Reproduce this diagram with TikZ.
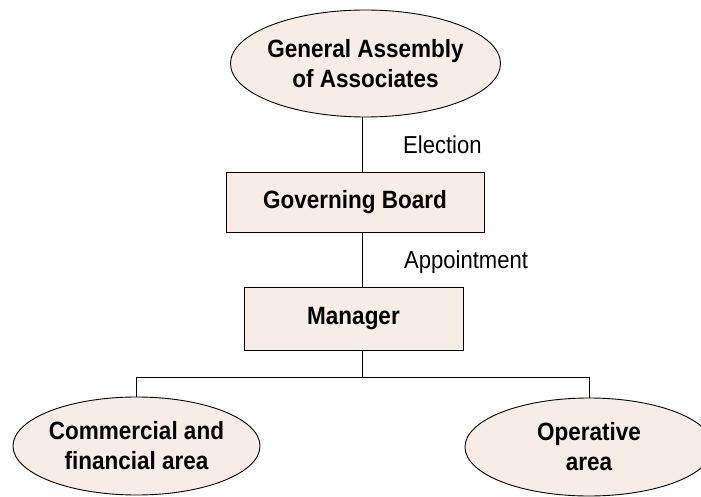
\documentclass[tikz,border=0pt]{standalone}
\usepackage{fontspec}
\setmainfont{Liberation Sans}[FakeStretch=0.9]
\usetikzlibrary{shapes.geometric}
\definecolor{fillc}{HTML}{F8ECE6}
\begin{document}
\begin{tikzpicture}[x=1pt,y=1pt,
  lbl/.style={font=\fontsize{25}{30}\selectfont\bfseries, align=center},
  ell/.style={ellipse, draw=black, line width=0.9pt, fill=fillc, inner sep=-25pt, lbl},
  boxn/.style={rectangle, draw=black, line width=0.9pt, fill=fillc, inner sep=0pt, lbl},
  edge/.style={font=\fontsize{24.5}{29}\selectfont, anchor=west, inner sep=0pt},
  conn/.style={draw=black, line width=0.9pt}]
\useasboundingbox (0,0) rectangle (701,496);
\begin{scope}
\clip (0,0) rectangle (701,496);
\node[ell, minimum width=270, minimum height=107] (gaa) at (365.5,432.5) {General Assembly\\of Associates};
\node[boxn, minimum width=258, minimum height=60] (gb) at (355,294) {Governing Board};
\node[boxn, minimum width=219, minimum height=63] (mgr) at (353.5,177.5) {Manager};
\node[ell, minimum width=247, minimum height=98] (cfa) at (136.5,50) {Commercial and\\financial area};
\node[ell, minimum width=248, minimum height=98] (opa) at (589,49) {Operative\\area};
\coordinate (trunk) at (362.5,119);
\coordinate (ls) at (136.5,119);
\coordinate (rs) at (589,119);
\draw[conn] (gaa.south -| trunk) -- (gb.north -| trunk);
\draw[conn] (gb.south -| trunk) -- (mgr.north -| trunk);
\draw[conn] (mgr.south -| trunk) -- (trunk);
\draw[conn] (ls) -- (rs);
\draw[conn] (ls) -- (cfa.north);
\draw[conn] (rs) -- (opa.north);
\node[edge] (el) at (403,351) {Election};
\node[edge] (ap) at (404,234) {Appointment};
\end{scope}
\end{tikzpicture}
\end{document}
